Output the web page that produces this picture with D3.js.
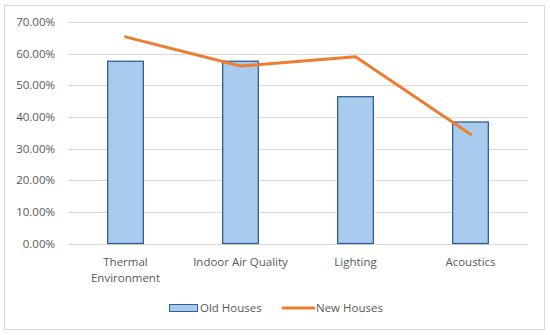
<!DOCTYPE html>
<html lang="en">
<head>
  <meta charset="utf-8">
  <title>Old vs new houses</title>
  <script src="https://d3js.org/d3.v7.min.js"></script>
  <style>
    body { margin: 0; background: #fff; }
    #chart text { font-family: "Open Sans", sans-serif; fill: #595959; }
  </style>
</head>
<body>
  <div id="chart"></div>
  <script>
    "use strict"

    var categorias = [["Thermal", "Environment"], ["Indoor Air Quality"], ["Lighting"], ["Acoustics"]];
    var casasAntigas = [57.6, 57.6, 46.4, 38.4];
    var casasNovas = [65.3, 56.1, 59.0, 34.5];
    var ticksY = [0, 10, 20, 30, 40, 50, 60, 70];
    var nomesSeries = ["Old Houses", "New Houses"];

    var larguraSVG = 550, alturaSVG = 335;
    var margin = {top: 22, right: 22, bottom: 91.5, left: 68};
    var larguraVis = larguraSVG - margin.left - margin.right,
        alturaVis = alturaSVG - margin.top - margin.bottom;

    var svg = d3.select('#chart').append('svg')
      .attr('width', larguraSVG)
      .attr('height', alturaSVG);

    svg.append('rect')
      .attr('x', 4.5).attr('y', 5.5)
      .attr('width', 540).attr('height', 324)
      .attr('fill', '#fff')
      .attr('stroke', '#d9d9d9');

    var grafico = svg.append('g')
      .attr('transform', 'translate(' + margin.left + ',' + margin.top + ')');

    var idx = d3.range(categorias.length);

    var x = d3.scaleBand()
      .domain(idx)
      .range([0, larguraVis])
      .paddingInner(0.69)
      .paddingOuter(0.345);

    var y = d3.scaleLinear()
      .domain([0, 70])
      .range([alturaVis, 0]);

    // grade
    grafico.append('g')
      .selectAll('line')
      .data(ticksY)
      .enter().append('line')
        .attr('x1', 0).attr('x2', larguraVis)
        .attr('y1', d => Math.round(y(d)) + 0.5)
        .attr('y2', d => Math.round(y(d)) + 0.5)
        .attr('stroke', '#d9d9d9');

    var eixoY = grafico.append('g')
      .call(d3.axisLeft(y).tickValues(ticksY).tickSize(0).tickPadding(13)
        .tickFormat(d => d.toFixed(2) + '%'));
    eixoY.select('.domain').remove();
    eixoY.selectAll('text').style('font-size', '11.5px');

    // barras
    grafico.selectAll('.barra')
      .data(casasAntigas)
      .enter().append('rect')
        .attr('class', 'barra')
        .attr('x', (d, i) => x(i))
        .attr('y', d => y(d))
        .attr('width', x.bandwidth())
        .attr('height', d => y(0) - y(d))
        .attr('fill', '#a9cbee')
        .attr('stroke', '#2f5f98')
        .attr('stroke-width', 1.3);

    // linha
    var linha = d3.line()
      .x((d, i) => x(i) + x.bandwidth() / 2)
      .y(d => y(d));

    grafico.append('path')
      .datum(casasNovas)
      .attr('d', linha)
      .attr('fill', 'none')
      .attr('stroke', '#ed7d31')
      .attr('stroke-width', 3)
      .attr('stroke-linecap', 'round')
      .attr('stroke-linejoin', 'round');

    // categorias
    var rotulos = grafico.append('g')
      .selectAll('text')
      .data(categorias)
      .enter().append('text')
        .attr('text-anchor', 'middle')
        .attr('x', (d, i) => x(i) + x.bandwidth() / 2)
        .attr('y', alturaVis + 22)
        .style('font-size', '11.5px');
    rotulos.selectAll('tspan')
      .data(d => d)
      .enter().append('tspan')
        .attr('x', function() { return d3.select(this.parentNode).attr('x'); })
        .attr('dy', (d, i) => i === 0 ? 0 : 16)
        .text(d => d);

    // legenda
    var legenda = svg.append('g');
    legenda.append('rect')
      .attr('x', 169.5).attr('y', 304.5)
      .attr('width', 28).attr('height', 7)
      .attr('fill', '#a9cbee')
      .attr('stroke', '#2f5f98');
    legenda.append('text')
      .attr('x', 200).attr('y', 312)
      .style('font-size', '11.5px')
      .text(nomesSeries[0]);
    legenda.append('line')
      .attr('x1', 283).attr('x2', 314)
      .attr('y1', 308).attr('y2', 308)
      .attr('stroke', '#ed7d31')
      .attr('stroke-width', 3)
      .attr('stroke-linecap', 'round');
    legenda.append('text')
      .attr('x', 316).attr('y', 312)
      .style('font-size', '11.5px')
      .text(nomesSeries[1]);
  </script>
</body>
</html>
